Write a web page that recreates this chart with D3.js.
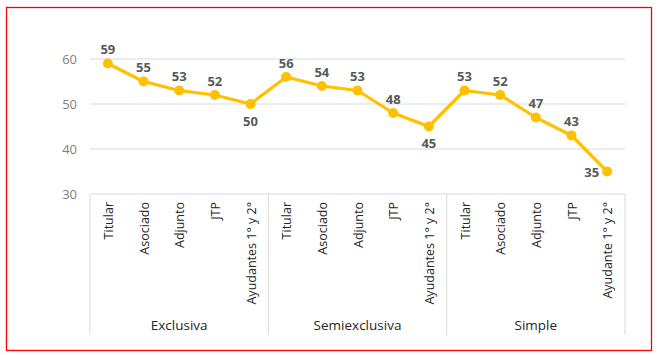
<!DOCTYPE html>
<html>
<head>
<meta charset="utf-8">
<script src="https://cdn.jsdelivr.net/npm/d3@7"></script>
<style>
  body { margin: 0; background: #fff; }
  svg text { font-family: "Open Sans", "Liberation Sans", sans-serif; }
</style>
</head>
<body>
<div id="chart"></div>
<script>
const groups = ['Exclusiva', 'Semiexclusiva', 'Simple']
const categories = [
  ['Titular', 'Asociado', 'Adjunto', 'JTP', 'Ayudantes 1° y 2°'],
  ['Titular', 'Asociado', 'Adjunto', 'JTP', 'Ayudantes 1° y 2°'],
  ['Titular', 'Asociado', 'Adjunto', 'JTP', 'Ayudante 1° y 2°']
]
const values = [59, 55, 53, 52, 50, 56, 54, 53, 48, 45, 53, 52, 47, 43, 35]
// where each data label sits relative to its point
const labelPos = ['t','t','t','t','b','t','t','t','t','b','t','t','t','t','l']
const yTicks = [30, 40, 50, 60]

const width = 658, height = 355

let svg = d3.select('#chart').append('svg')
  .attr('width', width)
  .attr('height', height)

// red frame
svg.append('rect')
  .attr('x', 6.5).attr('y', 7.5)
  .attr('width', 645).attr('height', 343)
  .attr('fill', 'none')
  .attr('stroke', '#ff0000')
  .attr('stroke-width', 1.3)

let points = []
categories.forEach((cats, gi) => cats.forEach((c, ci) => points.push({
  key: gi + '-' + ci, cat: c, group: groups[gi], value: values[points.length], pos: labelPos[points.length]
})))

let x = d3.scaleBand()
  .domain(points.map(d => d.key))
  .range([90, 625])

let y = d3.scaleLinear()
  .domain([30, 60])
  .range([194, 59])

// gridlines
svg.append('g')
  .selectAll('line')
  .data(yTicks)
  .enter()
  .append('line')
  .attr('x1', 90).attr('x2', 625)
  .attr('y1', d => y(d)).attr('y2', d => y(d))
  .attr('stroke', '#d9d9d9')
  .attr('stroke-width', 1)

svg.append('g')
  .selectAll('text')
  .data(yTicks)
  .enter()
  .append('text')
  .attr('x', 77)
  .attr('y', d => y(d))
  .attr('dy', '0.35em')
  .attr('text-anchor', 'end')
  .attr('fill', '#7f7f7f')
  .attr('font-size', 13)
  .text(d => d)

// group dividers
let bounds = groups.map((g, gi) => x(gi + '-0'))
bounds.push(x.range()[1])
svg.append('g')
  .selectAll('line')
  .data(bounds)
  .enter()
  .append('line')
  .attr('x1', d => d).attr('x2', d => d)
  .attr('y1', y(30)).attr('y2', 335)
  .attr('stroke', '#d9d9d9')
  .attr('stroke-width', 1)

// category labels
svg.append('g')
  .selectAll('text')
  .data(points)
  .enter()
  .append('text')
  .attr('transform', d => `translate(${x(d.key) + x.bandwidth() / 2 + 5},202) rotate(-90)`)
  .attr('text-anchor', 'end')
  .attr('fill', '#262626')
  .attr('font-size', 12.5)
  .text(d => d.cat)

// group labels
svg.append('g')
  .selectAll('text')
  .data(groups)
  .enter()
  .append('text')
  .attr('x', (d, i) => (bounds[i] + bounds[i + 1]) / 2)
  .attr('y', 330)
  .attr('text-anchor', 'middle')
  .attr('fill', '#262626')
  .attr('font-size', 13.5)
  .text(d => d)

// series
let cx = d => x(d.key) + x.bandwidth() / 2

svg.append('path')
  .datum(points)
  .attr('d', d3.line().x(cx).y(d => y(d.value)))
  .attr('fill', 'none')
  .attr('stroke', '#ffc000')
  .attr('stroke-width', 3.2)
  .attr('stroke-linejoin', 'round')

svg.append('g')
  .selectAll('circle')
  .data(points)
  .enter()
  .append('circle')
  .attr('cx', cx)
  .attr('cy', d => y(d.value))
  .attr('r', 5)
  .attr('fill', '#ffc000')

svg.append('g')
  .selectAll('text')
  .data(points)
  .enter()
  .append('text')
  .attr('x', d => d.pos === 'l' ? cx(d) - 8 : cx(d))
  .attr('y', d => y(d.value) + (d.pos === 't' ? -14 : d.pos === 'b' ? 17 : 1))
  .attr('dy', '0.35em')
  .attr('text-anchor', d => d.pos === 'l' ? 'end' : 'middle')
  .attr('fill', '#595959')
  .attr('font-size', 13)
  .attr('font-weight', 'bold')
  .text(d => d.value)
</script>
</body>
</html>
